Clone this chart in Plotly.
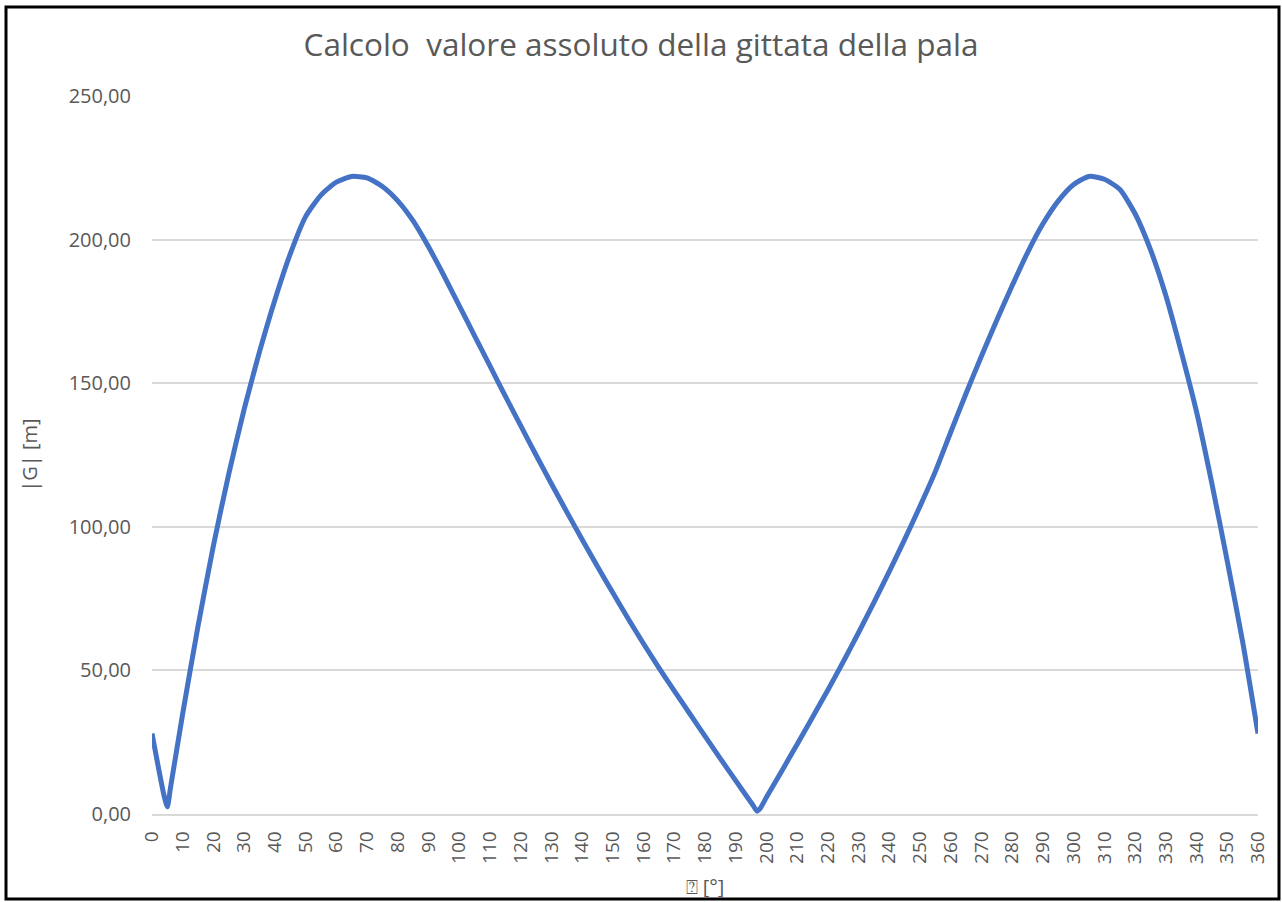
import plotly.graph_objects as go

# ---- data ----
angle_deg = [0, 4, 5, 6, 10, 15, 20, 25, 30, 35, 40, 45, 50, 55, 60, 65, 70, 75, 80, 85, 90,
             95, 100, 105, 110, 115, 120, 125, 130, 135, 140, 145, 150, 155, 160, 165,
             170, 175, 180, 185, 190, 195, 196, 197, 198, 200, 205, 210, 215, 220, 225,
             230, 235, 240, 245, 250, 255, 260, 265, 270, 275, 280, 285, 290, 295, 300,
             305, 310, 315, 320, 325, 330, 335, 340, 345, 350, 355, 360]
gittata_abs = [28.0, 6.0, 2.5, 9.0, 35.0, 65.5, 93.5, 118.5, 141.0, 161.0, 179.0, 195.0,
               208.0, 215.5, 220.0, 222.0, 221.5, 218.5, 213.5, 206.5, 197.5,
               187.5, 177.0, 166.5, 156.0, 145.5, 135.2, 125.0, 115.0, 105.2, 95.6,
               86.2, 77.0, 68.0, 59.3, 50.9, 42.9, 35.0, 27.1, 19.3, 11.6, 4.0, 2.4,
               1.0, 2.0, 5.8, 15.0, 24.3, 33.7, 43.2, 53.0, 63.2, 73.7, 84.5, 95.6,
               107.2, 119.3, 133.0, 146.5, 159.5, 172.0, 184.0, 195.5, 205.5, 213.5,
               219.2, 222.0, 221.0, 217.5, 209.0, 196.5, 180.5, 161.0, 140.0, 115.0,
               88.0, 60.0, 28.0]
x_ticks = list(range(0, 361, 10))
y_ticks = [0, 50, 100, 150, 200, 250]

title_text = "Calcolo  valore assoluto della gittata della pala"
x_title = "⍰ [°]"
y_title = "|G| [m]"

# ---- layout geometry (pixels) ----
W, H = 1282, 902
L, R, T, B = 152, 24, 96, 88
pw, ph = W - L - R, H - T - B

def px_x(p):
    return (p - L) / pw

def px_y(p):
    return (H - B - p) / ph

FONT = "Open Sans"
GREY = "#595959"

fig = go.Figure()
fig.add_trace(go.Scatter(
    x=angle_deg, y=gittata_abs, mode="lines",
    line=dict(color="#4472C4", width=5, shape="spline", smoothing=0.6),
    showlegend=False, hoverinfo="x+y",
))

fig.update_layout(
    width=W, height=H,
    margin=dict(l=L, r=R, t=T, b=B, autoexpand=False),
    paper_bgcolor="white", plot_bgcolor="white",
    separators=",.",
    title=dict(text=title_text, x=0.5, xanchor="center", xref="container",
               y=1 - 45 / H, yanchor="middle", yref="container",
               font=dict(family=FONT, size=31.5, color=GREY)),
    font=dict(family=FONT, color=GREY),
)

fig.update_xaxes(
    range=[0, 360], tickmode="array", tickvals=x_ticks,
    ticktext=[str(v) for v in x_ticks], tickangle=-90,
    tickfont=dict(family=FONT, size=19, color=GREY),
    showgrid=False, zeroline=False,
    showline=True, linecolor="#D9D9D9", linewidth=1.5,
    ticks="", ticklabelstandoff=8,
    title=dict(text=x_title, font=dict(family=FONT, size=20, color=GREY), standoff=17),
    fixedrange=True,
)
fig.update_yaxes(
    range=[0, 250], tickmode="array", tickvals=y_ticks, tickformat=".2f",
    tickfont=dict(family=FONT, size=20, color=GREY),
    showgrid=True, gridcolor="#D9D9D9", gridwidth=1.5,
    zeroline=False, showline=False, ticks="", ticklabelstandoff=20,
    title=dict(text=y_title, font=dict(family=FONT, size=20, color=GREY), standoff=25),
    fixedrange=True,
)

# outer black chart frame
fig.add_shape(type="rect", xref="paper", yref="paper",
              x0=px_x(6), x1=px_x(1279), y0=px_y(899), y1=px_y(7),
              line=dict(color="black", width=3), fillcolor="rgba(0,0,0,0)",
              layer="above")

fig.write_html("out.html",
               config={"displayModeBar": False},
               post_script="document.body.style.margin='0px';document.body.style.overflow='hidden';")
